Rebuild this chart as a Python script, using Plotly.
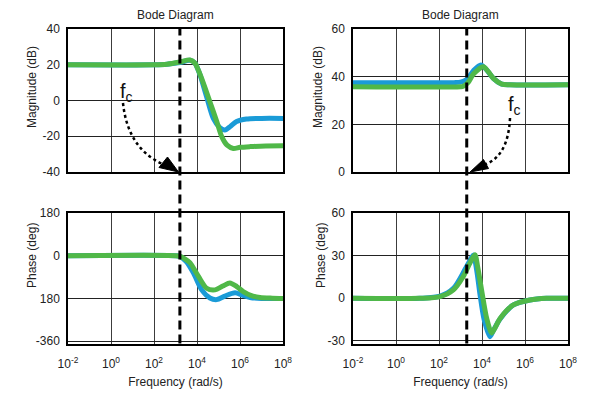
import plotly.graph_objects as go

# ---------------- data ----------------
# exponents of frequency (rad/s) -> frequency = 10**exponent
lt_blue_logw = [-2, 2.0, 2.6, 3.2, 3.67, 3.9, 4.14, 4.45, 4.76, 5.05, 5.3, 5.55, 5.84, 6.3, 7.0, 8.0]
lt_blue_db = [20, 20, 20.3, 21.3, 22.5, 21, 14.3, 2, -10, -15, -16.5, -14.5, -11.8, -10.4, -10, -10]
lt_green_logw = [-2, 2.0, 2.6, 3.2, 3.67, 3.9, 4.06, 4.3, 4.6, 4.92, 5.15, 5.4, 5.69, 6.0, 6.47, 7.2, 8.0]
lt_green_db = [20, 20, 20.3, 21.5, 22.7, 21, 17, 9.6, -0.7, -11.8, -20.2, -25, -26.8, -26.2, -25.8, -25.4, -25.3]

lb_blue_logw = [-2, 3.0, 3.21, 3.5, 3.83, 4.22, 4.6, 4.92, 5.3, 5.77, 6.1, 6.47, 7.0, 8.0]
lb_blue_deg = [0, 0, -3, -25, -72, -144, -178, -185, -170, -156, -166, -176, -180, -180]
lb_green_logw = [-2, 3.0, 3.21, 3.45, 3.67, 4.06, 4.45, 4.84, 5.2, 5.53, 5.85, 6.15, 6.5, 6.93, 7.5, 8.0]
lb_green_deg = [0, 0, -3, -14, -29, -86, -137, -144, -128, -115, -130, -151, -167, -176, -179, -180]

rt_blue_logw = [-2, 2.7, 3.0, 3.29, 3.6, 3.94, 4.2, 4.53, 4.92, 5.3, 8.0]
rt_blue_db = [37.5, 37.5, 37.7, 38.8, 42.5, 44.9, 43, 39.3, 36.9, 36.6, 36.6]
rt_green_logw = [-2, 3.0, 3.13, 3.35, 3.6, 4.06, 4.3, 4.53, 4.92, 5.3, 8.0]
rt_green_db = [35.8, 35.8, 36, 37.5, 41.1, 44.2, 42, 39.3, 36.9, 36.6, 36.6]

rb_blue_logw = [-2, 1.1, 2.05, 2.67, 3.2, 3.45, 3.6, 3.75, 3.9, 4.1, 4.37, 4.55, 4.84, 5.46, 6.23, 7.0, 8.0]
rb_blue_deg = [0, 0, 1.5, 7, 20, 27, 30.5, 20, 3.5, -15, -27, -22, -14.5, -4.7, -1.2, 0, 0]
rb_green_logw = [-2, 1.1, 2.05, 2.67, 3.13, 3.44, 3.67, 3.8, 3.98, 4.22, 4.45, 4.6, 4.84, 5.46, 6.23, 7.0, 8.0]
rb_green_deg = [0, 0, 1.2, 5.9, 15.3, 24.8, 30.7, 22, 5.9, -14.2, -24.4, -21, -14.2, -4.7, -1.2, 0, 0]

fc_left = 1600    # rad/s, dashed crossover line (left)
fc_right = 1950   # rad/s, dashed crossover line (right)

x_tickexp = [-2, 0, 2, 4, 6, 8]
x_ticktext = ["10<sup>%d</sup>" % e for e in x_tickexp]
lt_ticks = [-40, -20, 0, 20, 40]
lb_ticks = [-360, -180, 0, 180]
lb_ticktext = ["-360", "180", "0", "180"]
rt_ticks = [0, 20, 40, 60]
rb_ticks = [-30, 0, 30, 60]

# ---------------- styling ----------------
BLUE = "#1a9bd7"
GREEN = "#50b848"
FONT = "Liberation Sans, Arial, sans-serif"
W, H = 589, 393

def px_x(p):
    return p / W

def px_y(p):
    return 1 - p / H

fig = go.Figure()

def add_pair(xa, ya, lb, vb, lg, vg):
    fig.add_trace(go.Scatter(x=[10 ** v for v in lb], y=vb, mode="lines",
                             line=dict(color=BLUE, width=5, shape="spline", smoothing=0.8),
                             xaxis=xa, yaxis=ya, showlegend=False, hoverinfo="skip"))
    fig.add_trace(go.Scatter(x=[10 ** v for v in lg], y=vg, mode="lines",
                             line=dict(color=GREEN, width=5, shape="spline", smoothing=0.8),
                             xaxis=xa, yaxis=ya, showlegend=False, hoverinfo="skip"))

add_pair("x", "y", lt_blue_logw, lt_blue_db, lt_green_logw, lt_green_db)
add_pair("x2", "y2", rt_blue_logw, rt_blue_db, rt_green_logw, rt_green_db)
add_pair("x3", "y3", lb_blue_logw, lb_blue_deg, lb_green_logw, lb_green_deg)
add_pair("x4", "y4", rb_blue_logw, rb_blue_deg, rb_green_logw, rb_green_deg)

left_dom = [px_x(68), px_x(283)]
right_dom = [px_x(353), px_x(568)]
top_dom = [px_y(172), px_y(29)]
bot_dom = [px_y(343.5), px_y(213)]

tickfont = dict(family=FONT, size=12, color="#222")
titlefont = dict(family=FONT, size=12, color="#222")

def xaxis(dom, anchor, labels):
    return dict(domain=dom, anchor=anchor, type="log", range=[-2, 8], automargin=False,
                tickvals=[10 ** e for e in x_tickexp], ticktext=x_ticktext,
                showticklabels=labels, ticks="", showgrid=True, gridcolor="#3c3c3c", gridwidth=1,
                showline=True, linecolor="black", linewidth=1.5, mirror=True,
                zeroline=False, tickfont=tickfont, ticklabelstandoff=8,
                title=dict(text="Frequency (rad/s)" if labels else "", font=titlefont, standoff=8))

def yaxis(dom, anchor, rng, vals, text):
    return dict(domain=dom, anchor=anchor, range=rng, tickvals=vals, ticktext=text, automargin=False,
                ticks="", showgrid=True, gridcolor="#222", gridwidth=1,
                showline=True, linecolor="black", linewidth=1.5, mirror=True,
                zeroline=False, tickfont=tickfont, ticklabelstandoff=4)

fig.update_layout(
    width=W, height=H, margin=dict(l=0, r=0, t=0, b=0, autoexpand=False),
    paper_bgcolor="white", plot_bgcolor="white",
    font=dict(family=FONT, size=12, color="#222"),
    xaxis=xaxis(left_dom, "y", False),
    xaxis2=xaxis(right_dom, "y2", False),
    xaxis3=xaxis(left_dom, "y3", True),
    xaxis4=xaxis(right_dom, "y4", True),
    yaxis=yaxis(top_dom, "x", [-40, 40], lt_ticks, [str(v) for v in lt_ticks]),
    yaxis2=yaxis(top_dom, "x2", [0, 60], rt_ticks, [str(v) for v in rt_ticks]),
    yaxis3=yaxis(bot_dom, "x3", [-370, 180], lb_ticks, lb_ticktext),
    yaxis4=yaxis(bot_dom, "x4", [-31.8, 60], rb_ticks, [str(v) for v in rb_ticks]),
)

# titles
for dom in (left_dom, right_dom):
    fig.add_annotation(text="Bode Diagram", xref="paper", yref="paper",
                       x=(dom[0] + dom[1]) / 2, y=px_y(15), showarrow=False,
                       font=dict(family=FONT, size=12, color="#222"),
                       xanchor="center", yanchor="middle")

# y-axis titles (placed as in the reference)
for text, xp, yp in (("Magnitude (dB)", 32, 87), ("Magnitude (dB)", 318, 87),
                     ("Phase (deg)", 32, 256), ("Phase (deg)", 321, 256)):
    fig.add_annotation(text=text, xref="paper", yref="paper", x=px_x(xp), y=px_y(yp),
                       textangle=-90, showarrow=False, font=titlefont,
                       xanchor="center", yanchor="middle")

# dashed crossover lines spanning both subplots
for xref, fc in (("x", fc_left), ("x2", fc_right)):
    fig.add_shape(type="line", xref=xref, yref="paper",
                  x0=fc, x1=fc, y0=bot_dom[0], y1=top_dom[1],
                  line=dict(color="black", width=3, dash="9px,5px"), layer="above")

# f_c labels
fig.add_annotation(text="f<sub>c</sub>", xref="paper", yref="paper", x=px_x(126), y=px_y(92),
                   showarrow=False, font=dict(family=FONT, size=20, color="#111"),
                   xanchor="center", yanchor="middle")
fig.add_annotation(text="f<sub>c</sub>", xref="paper", yref="paper", x=px_x(514), y=px_y(105),
                   showarrow=False, font=dict(family=FONT, size=20, color="#111"),
                   xanchor="center", yanchor="middle")

# dotted curved arrows (paper coordinates)
def P(x, y):
    return "%.4f,%.4f" % (px_x(x), px_y(y))

fig.add_shape(type="path", xref="paper", yref="paper",
              path="M " + P(123, 103) + " Q " + P(128, 150) + " " + P(165, 165),
              line=dict(color="black", width=2.5, dash="dot"))
fig.add_shape(type="path", xref="paper", yref="paper",
              path="M " + P(159, 167.5) + " L " + P(167.5, 157) + " L " + P(178.5, 172) + " Z",
              fillcolor="black", line=dict(color="black", width=1))

fig.add_shape(type="path", xref="paper", yref="paper",
              path="M " + P(510, 118) + " Q " + P(508, 160) + " " + P(480, 166),
              line=dict(color="black", width=2.5, dash="dot"))
fig.add_shape(type="path", xref="paper", yref="paper",
              path="M " + P(483.5, 159.5) + " L " + P(488.5, 168.5) + " L " + P(470, 172) + " Z",
              fillcolor="black", line=dict(color="black", width=1))

fig.write_html("out.html", config={"displayModeBar": False},
               post_script="document.body.style.margin='0';document.body.style.overflow='hidden';")
